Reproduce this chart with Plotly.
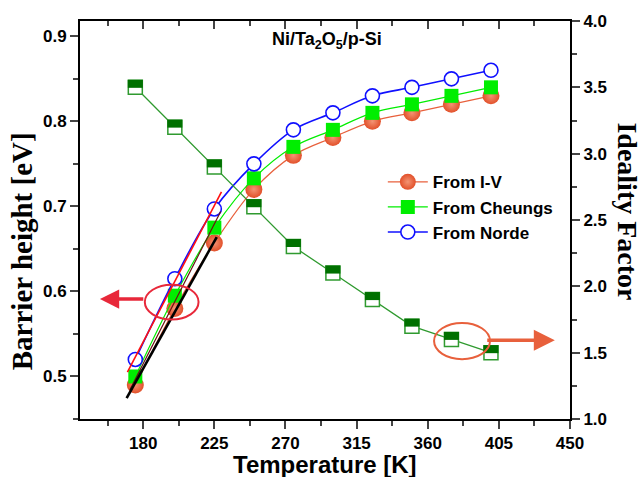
import plotly.graph_objects as go

# ---------------- data ----------------
temperature = [175, 200, 225, 250, 275, 300, 325, 350, 375, 400]
bh_iv = [0.49, 0.58, 0.657, 0.72, 0.76, 0.781, 0.80, 0.81, 0.82, 0.83]
bh_cheung = [0.50, 0.595, 0.675, 0.733, 0.77, 0.79, 0.81, 0.82, 0.83, 0.84]
bh_norde = [0.52, 0.615, 0.697, 0.75, 0.79, 0.81, 0.83, 0.84, 0.85, 0.86]
ideality = [3.50, 3.20, 2.90, 2.60, 2.30, 2.10, 1.90, 1.70, 1.60, 1.50]

# linear fits in the low-temperature region
fit_red_T = [170.0, 229.5]
fit_red_BH = [0.505, 0.717]
fit_brown_T = [171.5, 229.0]
fit_brown_BH = [0.484, 0.694]
fit_black_T = [169.5, 226.5]
fit_black_BH = [0.4746, 0.664]

x_ticks = [180, 225, 270, 315, 360, 405, 450]

SANS = "Liberation Sans, Arial, sans-serif"
SERIF = "Liberation Serif, Times New Roman, serif"

C_IV = "#e8603c"
C_CH = "#00ee00"
C_NO = "#1010ff"
C_ID = "#2f9a2f"
C_ID_DARK = "#007000"

fig = go.Figure()

fig.add_trace(go.Scatter(
    x=temperature, y=bh_iv, mode="lines+markers", name="From I-V",
    line=dict(color=C_IV, width=1.2, shape="spline"),
    marker=dict(symbol="circle", size=17, color="#e2502a",
                gradient=dict(type="radial", color="#f39474"), line=dict(width=0))))
fig.add_trace(go.Scatter(
    x=temperature, y=bh_cheung, mode="lines+markers", name="From Cheungs",
    line=dict(color=C_CH, width=1.2, shape="spline"),
    marker=dict(symbol="square", size=14, color=C_CH, line=dict(width=0))))
fig.add_trace(go.Scatter(
    x=temperature, y=bh_norde, mode="lines+markers", name="From Norde",
    line=dict(color=C_NO, width=1.6, shape="spline"),
    marker=dict(symbol="circle", size=14, color="white", line=dict(color=C_NO, width=1.6))))

# fit lines
fig.add_trace(go.Scatter(x=fit_red_T, y=fit_red_BH, mode="lines",
                         line=dict(color="#ff1010", width=1.6), showlegend=False, hoverinfo="skip"))
fig.add_trace(go.Scatter(x=fit_brown_T, y=fit_brown_BH, mode="lines",
                         line=dict(color="#6a1010", width=1.2), showlegend=False, hoverinfo="skip"))
fig.add_trace(go.Scatter(x=fit_black_T, y=fit_black_BH, mode="lines",
                         line=dict(color="black", width=2.6), showlegend=False, hoverinfo="skip"))

# Ideality factor (right axis): white square with border, top half filled via shapes
fig.add_trace(go.Scatter(
    x=temperature, y=ideality, yaxis="y2", mode="lines+markers",
    line=dict(color=C_ID, width=1.3),
    marker=dict(symbol="square", size=14, color="white", line=dict(color=C_ID, width=1.5)),
    showlegend=False, hoverinfo="skip"))

# dummy trace for the top mirror axis
fig.add_trace(go.Scatter(x=[None], y=[None], xaxis="x2", showlegend=False, hoverinfo="skip"))

shapes = []
for t, n in zip(temperature, ideality):
    shapes.append(dict(type="rect", xref="x", yref="y2", xsizemode="pixel", ysizemode="pixel",
                       xanchor=t, yanchor=n, x0=-7.5, x1=7.5, y0=-0.5, y1=7.5,
                       fillcolor=C_ID_DARK, line=dict(width=0), layer="above"))
# ellipses
shapes.append(dict(type="circle", xref="x", yref="y", x0=181, x1=215, y0=0.567, y1=0.608,
                   line=dict(color="#e8283a", width=2)))
shapes.append(dict(type="circle", xref="x", yref="y2", x0=364, x1=399.4, y0=1.451, y1=1.724,
                   line=dict(color=C_IV, width=2)))

annotations = [
    dict(x=152.6, y=0.591, ax=181, ay=0.591, xref="x", yref="y", axref="x", ayref="y",
         showarrow=True, arrowhead=2, arrowsize=1.1, arrowwidth=3.5, arrowcolor="#e8283a", text=""),
    dict(x=440.4, y=1.594, ax=396.7, ay=1.594, xref="x", yref="y2", axref="x", ayref="y2",
         showarrow=True, arrowhead=2, arrowsize=1.2, arrowwidth=3.5, arrowcolor=C_IV, text=""),
    dict(x=0.504, y=0.952, xref="paper", yref="paper", showarrow=False,
         xanchor="center", yanchor="middle",
         text="Ni/Ta<sub>2</sub>O<sub>5</sub>/p-Si",
         font=dict(family=SANS, size=18, color="black", weight="bold")),
    dict(x=0.5, y=-0.115, xref="paper", yref="paper", showarrow=False, text="Temperature [K]",
         xanchor="center", yanchor="middle",
         font=dict(family=SANS, size=24, color="black", weight="bold")),
    dict(x=-0.118, y=0.422, xref="paper", yref="paper", showarrow=False, text="Barrier height [eV]",
         xanchor="center", yanchor="middle",
         textangle=-90, font=dict(family=SERIF, size=29, color="black", weight="bold")),
    dict(x=1.118, y=0.522, xref="paper", yref="paper", showarrow=False, text="Ideality Factor",
         xanchor="center", yanchor="middle",
         textangle=90, font=dict(family=SERIF, size=28, color="black", weight="bold")),
]

tickfont = dict(family=SANS, size=17, color="black", weight="bold")

fig.update_layout(
    width=644, height=477,
    margin=dict(l=80, r=74, t=21, b=58),
    paper_bgcolor="white", plot_bgcolor="white",
    showlegend=True,
    legend=dict(x=0.618, y=0.64, xanchor="left", yanchor="top", bgcolor="rgba(0,0,0,0)",
                font=dict(family=SANS, size=17, color="black", weight="bold"),
                itemwidth=40, tracegroupgap=0),
    xaxis=dict(range=[140, 450], tickvals=x_ticks, ticks="outside", ticklen=8, tickwidth=1.5,
               showline=True, linecolor="black", linewidth=2, showgrid=False, zeroline=False,
               tickfont=tickfont, minor=dict(dtick=22.5, tick0=180, ticks="outside", ticklen=5, tickwidth=1.5)),
    xaxis2=dict(range=[140, 450], overlaying="x", side="top", anchor="y", tickvals=x_ticks,
                ticks="inside", ticklen=8, tickwidth=1.5, showticklabels=False,
                showline=True, linecolor="black", linewidth=2, showgrid=False, zeroline=False,
                minor=dict(dtick=22.5, tick0=180, ticks="inside", ticklen=5, tickwidth=1.5)),
    yaxis=dict(range=[0.45, 0.918], dtick=0.1, tick0=0.5, tickformat=".1f", ticks="outside",
               ticklen=8, tickwidth=1.5, showline=True, linecolor="black", linewidth=2,
               showgrid=False, zeroline=False, tickfont=tickfont,
               minor=dict(dtick=0.05, ticks="outside", ticklen=5, tickwidth=1.5)),
    yaxis2=dict(range=[1, 4], dtick=0.5, tick0=1, tickformat=".1f", overlaying="y", side="right",
                anchor="x", ticks="outside", ticklen=8, tickwidth=1.5, showline=True,
                linecolor="black", linewidth=2, showgrid=False, zeroline=False, tickfont=tickfont,
                minor=dict(dtick=0.25, ticks="outside", ticklen=5, tickwidth=1.5)),
    shapes=shapes,
    annotations=annotations,
)

fig.write_html("out.html")
